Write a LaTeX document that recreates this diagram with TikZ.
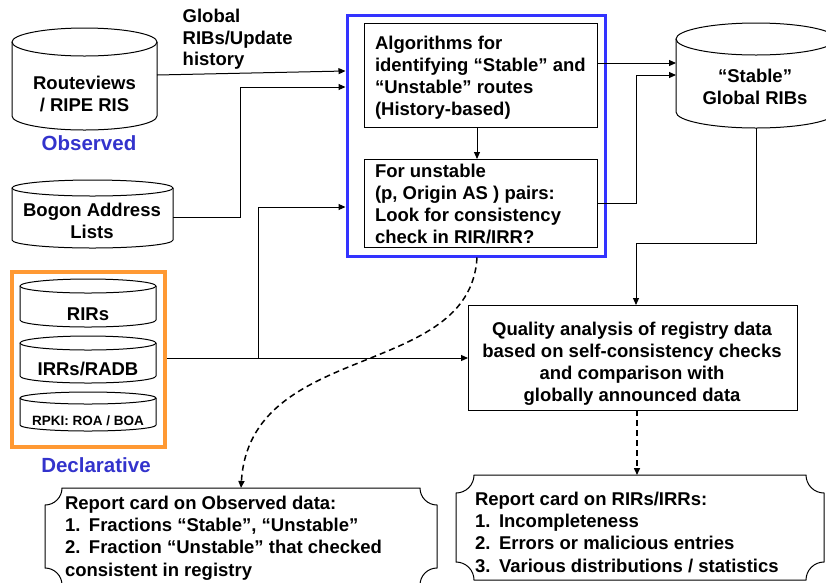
\documentclass[tikz,border=0pt]{standalone}
\usepackage{fontspec}
\setmainfont{Liberation Sans}
\usetikzlibrary{arrows.meta}
\definecolor{boxblue}{RGB}{51,51,255}
\definecolor{txtblue}{RGB}{51,51,204}
\definecolor{orng}{RGB}{255,153,51}
\newcommand\bodyfont{\fontsize{18.5pt}{22pt}\selectfont\bfseries}
\newcommand\dbcyl[6]{%
  \draw[ln] ({#2-#5},#3) -- ({#2-#5},#4) .. controls ({#2-#5},{#4+0.5523*#6}) and ({#2-0.5523*#5},{#4+#6}) .. (#2,{#4+#6}) .. controls ({#2+0.5523*#5},{#4+#6}) and ({#2+#5},{#4+0.5523*#6}) .. ({#2+#5},#4) -- ({#2+#5},#3);
  \draw[ln] (#2,#3) ellipse [x radius=#5pt, y radius=#6pt];
  \node[inner sep=0pt, outer sep=0pt, minimum width={2*#5pt}, minimum height={(#4-#3+2*#6)*1pt}] (#1) at (#2,{(#3+#4)/2}) {};
}
\newcommand\plaquebox[5]{%
  \draw[ln] ({#1+#5},#2) -- ({#3-#5},#2) .. controls ({#3-#5},{#2+0.55*#5}) and ({#3-0.55*#5},{#2+#5}) .. (#3,{#2+#5})
   -- (#3,{#4-#5}) .. controls ({#3-0.55*#5},{#4-#5}) and ({#3-#5},{#4-0.55*#5}) .. ({#3-#5},#4)
   -- ({#1+#5},#4) .. controls ({#1+#5},{#4-0.55*#5}) and ({#1+0.55*#5},{#4-#5}) .. (#1,{#4-#5})
   -- (#1,{#2+#5}) .. controls ({#1+0.55*#5},{#2+#5}) and ({#1+#5},{#2+0.55*#5}) .. cycle;
}
\tikzset{
  ln/.style={line width=1pt, draw=black},
  arr/.style={ln, -{Triangle[length=7pt,width=6pt]}},
  dasharr/.style={line width=1.5pt, draw=black, dash pattern=on 6pt off 4pt, -{Triangle[length=7pt,width=6pt]}},
  boxn/.style={draw, line width=1pt, inner sep=0pt, outer sep=0pt},
  txt/.style={inner sep=0pt, outer sep=0pt, font=\bodyfont},
  bluetxt/.style={inner sep=0pt, outer sep=0pt, font=\fontsize{20.5pt}{24pt}\selectfont\bfseries, text=txtblue},
}
\begin{document}
\begin{tikzpicture}[x=1pt,y=-1pt]
\useasboundingbox (0,0) rectangle (826,582);
\clip (0,0) rectangle (826,582);

% cylinders
\dbcyl{rv}{84.5}{42}{116}{72.5}{14}
\dbcyl{bog}{92.5}{188}{240}{80.5}{8}
\dbcyl{stable}{756}{39}{112}{80}{16}
\dbcyl{rirs}{88}{286}{320}{68}{7}
\dbcyl{irrs}{88}{343}{376}{68}{7}
\dbcyl{rpki}{88}{398}{425}{68}{6}

\node[txt, anchor=north, align=center] (t-rv) at (84.5,75.7) {Routeviews\\/ RIPE RIS};
\node[bluetxt, anchor=base] (t-obs) at (89,150) {Observed};
\node[txt, anchor=north west, align=left, font=\fontsize{18.5pt}{21.5pt}\selectfont\bfseries] (t-glob) at (182.7,9.2) {Global\\RIBs/Update\\history};
\node[txt, anchor=north, align=center] (t-bog) at (92,203.2) {Bogon Address\\Lists};
\node[txt, anchor=north, align=center] (t-stable) at (755,68.7) {“Stable”\\Global RIBs};
\node[txt, anchor=base] (t-rirs) at (88,320) {RIRs};
\node[txt, anchor=base] (t-irrs) at (88,375.7) {IRRs/RADB};
\node[txt, anchor=base, font=\fontsize{13.5pt}{16pt}\selectfont\bfseries] (t-rpki) at (88,425.7) {RPKI: ROA / BOA};
\node[bluetxt, anchor=base] (t-decl) at (96,472) {Declarative};

% boxes
\node[draw=boxblue, line width=3pt, minimum width=258pt, minimum height=241pt, inner sep=0pt] (blue) at (476,135.5) {};
\node[boxn, minimum width=233pt, minimum height=104pt] (box1) at (480.5,75) {};
\node[boxn, minimum width=233pt, minimum height=88pt] (box2) at (480.5,203) {};
\node[txt, anchor=north west, align=left] (t-alg) at (375,36) {Algorithms for\\identifying “Stable” and\\“Unstable” routes\\(History-based)};
\node[txt, anchor=north west, align=left] (t-unst) at (375,163.7) {For unstable\\(p, Origin AS ) pairs:\\Look for consistency\\check in RIR/IRR?};

\node[draw=orng, line width=3.5pt, minimum width=153pt, minimum height=175pt, inner sep=0pt] (orange) at (88.5,359.5) {};

\node[boxn, minimum width=329pt, minimum height=105pt] (qual) at (632.5,357.5) {};
\node[txt, anchor=north, align=center] (t-qual) at (632,321.7) {Quality analysis of registry data\\based on self-consistency checks\\and comparison with\\globally announced data};

% report cards
\plaquebox{45}{488}{437}{585}{17}
\node[inner sep=0pt, outer sep=0pt, minimum width=392pt, minimum height=97pt] (card1) at (241,536.5) {};
\node[txt, anchor=north west, align=left, font=\fontsize{18.5pt}{22.2pt}\selectfont\bfseries] (t-card1) at (65,496) {Report card on Observed data:\\\makebox[24pt][l]{1.}Fractions “Stable”, “Unstable”\\\makebox[24pt][l]{2.}Fraction “Unstable” that checked\\consistent in registry};
\plaquebox{456}{475}{824}{580}{18}
\node[inner sep=0pt, outer sep=0pt, minimum width=368pt, minimum height=105pt] (card2) at (640,527.5) {};
\node[txt, anchor=north west, align=left, font=\fontsize{18.5pt}{22.3pt}\selectfont\bfseries] (t-card2) at (475,491.7) {Report card on RIRs/IRRs:\\\makebox[24pt][l]{1.}Incompleteness\\\makebox[24pt][l]{2.}Errors or malicious entries\\\makebox[24pt][l]{3.}Various distributions / statistics};

% connectors
\draw[arr] (rv.east |- 0,75) -- (blue.west |- 0,71);
\draw[arr] (bog.east |- 0,217) -- (240,217) -- (240,87) -- (blue.west |- 0,87);
\draw[arr] (orange.east |- 0,358) -- (qual.west |- 0,358);
\draw[arr] (258,358) -- (258,207) -- (blue.west |- 0,207);
\draw[arr] (box1.south -| 477,0) -- (box2.north -| 477,0);
\draw[arr] (box1.east |- 0,63) -- (stable.west |- 0,63);
\draw[arr] (box2.east |- 0,203) -- (636,203) -- (636,75) -- (stable.west |- 0,75);
\draw[arr] (stable.south) -- (756,243) -- (636,243) -- (qual.north -| 636,0);
\draw[dasharr] (qual.south -| 637,0) -- (card2.north -| 637,0);
\draw[dasharr] (blue.south -| 477,0) .. controls (470,380) and (250,340) .. (card1.north -| 241,0);
\end{tikzpicture}
\end{document}
